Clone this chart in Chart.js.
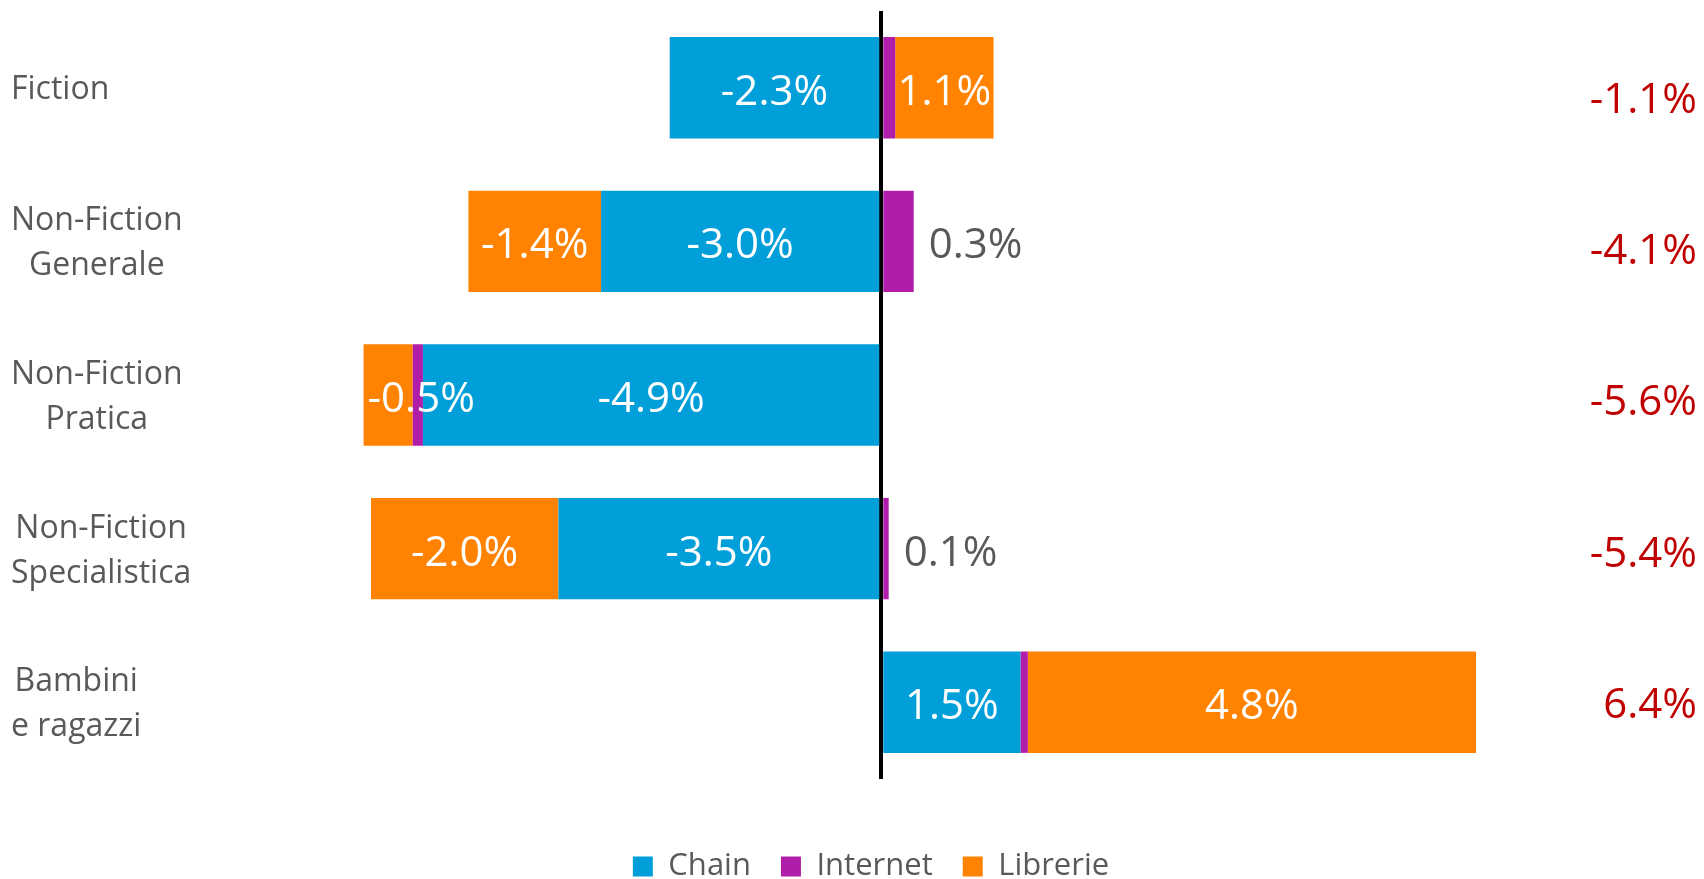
<!DOCTYPE html>
<html>
<head>
<meta charset="utf-8">
<script src="https://cdn.jsdelivr.net/npm/chart.js@4.4.1/dist/chart.umd.min.js"></script>
<style>
  html, body { margin: 0; padding: 0; background: #fff; }
  #wrap { width: 1704px; height: 879px; }
</style>
</head>
<body>
<div id="wrap"><canvas id="barGenere"></canvas></div>
<script>
// Data (variazione %)
const kategori = [
    ['Fiction'],
    ['Non-Fiction', 'Generale'],
    ['Non-Fiction', 'Pratica'],
    ['Non-Fiction', 'Specialistica'],
    ['Bambini', 'e ragazzi']
];
const dataChain = [-2.28, -3.02, -4.94, -3.48, 1.5];
const dataInternet = [0.15, 0.35, -0.11, 0.08, 0.08];
const dataLibrerie = [1.06, -1.43, -0.53, -2.02, 4.83];
const dataTotale = [-1.1, -4.1, -5.6, -5.4, 6.4];

const fontUtama = "'Open Sans', sans-serif";
const warnaAbu = '#595959';

function persen(v) {
    return v.toFixed(1) + '%';
}

// Plugin untuk label nilai, total dan kategori
const labelPlugin = {
    id: 'labelPlugin',
    afterDraw(chart) {
        const ctx = chart.ctx;
        const yScale = chart.scales.y;
        ctx.save();
        ctx.textBaseline = 'alphabetic';
        ctx.font = '42px ' + fontUtama;
        const capNilai = 0.714 * 42 / 2;

        // label putih di dalam batang Chain dan Librerie
        [0, 2].forEach(function (d) {
            const meta = chart.getDatasetMeta(d);
            meta.data.forEach(function (bar, i) {
                const v = chart.data.datasets[d].data[i];
                const txt = persen(v);
                const w = ctx.measureText(txt).width;
                const kiri = Math.min(bar.x, bar.base);
                const kanan = Math.max(bar.x, bar.base);
                let cx = (kiri + kanan) / 2;
                if (w > kanan - kiri) {
                    cx = v < 0 ? kiri + 4 + w / 2 : kanan - 4 - w / 2;
                }
                ctx.fillStyle = '#fff';
                ctx.textAlign = 'center';
                ctx.fillText(txt, cx, bar.y + capNilai + 2);
            });
        });

        // label Internet di luar batang, hanya kalau segmen paling luar
        chart.getDatasetMeta(1).data.forEach(function (bar, i) {
            if (dataInternet[i] > 0 && dataLibrerie[i] < 0) {
                ctx.fillStyle = warnaAbu;
                ctx.textAlign = 'left';
                ctx.fillText(persen(dataInternet[i]), bar.x + 15, bar.y + capNilai + 2);
            }
        });

        // total di kanan (sedikit bergeser ke bawah seperti aslinya)
        ctx.fillStyle = '#C00000';
        ctx.textAlign = 'right';
        const atas = yScale.top + 11;
        const langkah = (yScale.bottom - atas) / dataTotale.length;
        dataTotale.forEach(function (t, i) {
            ctx.fillText(persen(t), chart.width - 7, atas + (i + 0.5) * langkah + capNilai);
        });

        // label kategori di kiri
        ctx.font = '32px ' + fontUtama;
        const capKat = 0.714 * 32 / 2;
        ctx.fillStyle = warnaAbu;
        ctx.textAlign = 'center';
        kategori.forEach(function (baris, i) {
            const lebar = Math.max(...baris.map(b => ctx.measureText(b).width));
            const cy = yScale.getPixelForValue(i);
            baris.forEach(function (b, j) {
                ctx.fillText(b, 11 + lebar / 2, cy + capKat + (j - (baris.length - 1) / 2) * 45);
            });
        });
        ctx.restore();
    }
};

document.addEventListener('DOMContentLoaded', function () {
    const ctx1 = document.getElementById('barGenere').getContext('2d');

    const config1 = {
        type: 'bar',
        data: {
            labels: kategori.map(k => k.join(' ')),
            datasets: [
                { label: 'Chain', data: dataChain, backgroundColor: '#009FDA' },
                { label: 'Internet', data: dataInternet, backgroundColor: '#B01EA9' },
                { label: 'Librerie', data: dataLibrerie, backgroundColor: '#FF8200' }
            ]
        },
        options: {
            indexAxis: 'y',
            responsive: true,
            maintainAspectRatio: false,
            animation: false,
            datasets: {
                bar: {
                    barPercentage: 0.66,
                    categoryPercentage: 1,
                    borderWidth: 0
                }
            },
            layout: {
                padding: { left: 125, right: 87, top: 11, bottom: 0 }
            },
            scales: {
                x: {
                    stacked: true,
                    min: -7.44,
                    max: 7.93,
                    z: 1,
                    ticks: { display: false, stepSize: 1 },
                    border: { display: false },
                    grid: {
                        drawTicks: false,
                        lineWidth: 4,
                        color: c => (c.tick && c.tick.value === 0) ? '#000' : 'rgba(0,0,0,0)'
                    },
                    afterFit(scale) { scale.height = 42; }
                },
                y: {
                    stacked: true,
                    ticks: { display: false },
                    border: { display: false },
                    grid: { display: false, drawTicks: false },
                    afterFit(scale) { scale.width = 66; }
                }
            },
            plugins: {
                tooltip: { enabled: false },
                legend: {
                    position: 'bottom',
                    maxHeight: 58,
                    labels: {
                        boxWidth: 20,
                        boxHeight: 20,
                        padding: 30,
                        color: warnaAbu,
                        font: { size: 31, family: fontUtama }
                    }
                }
            }
        },
        plugins: [labelPlugin]
    };

    new Chart(ctx1, config1);
});
</script>
</body>
</html>
